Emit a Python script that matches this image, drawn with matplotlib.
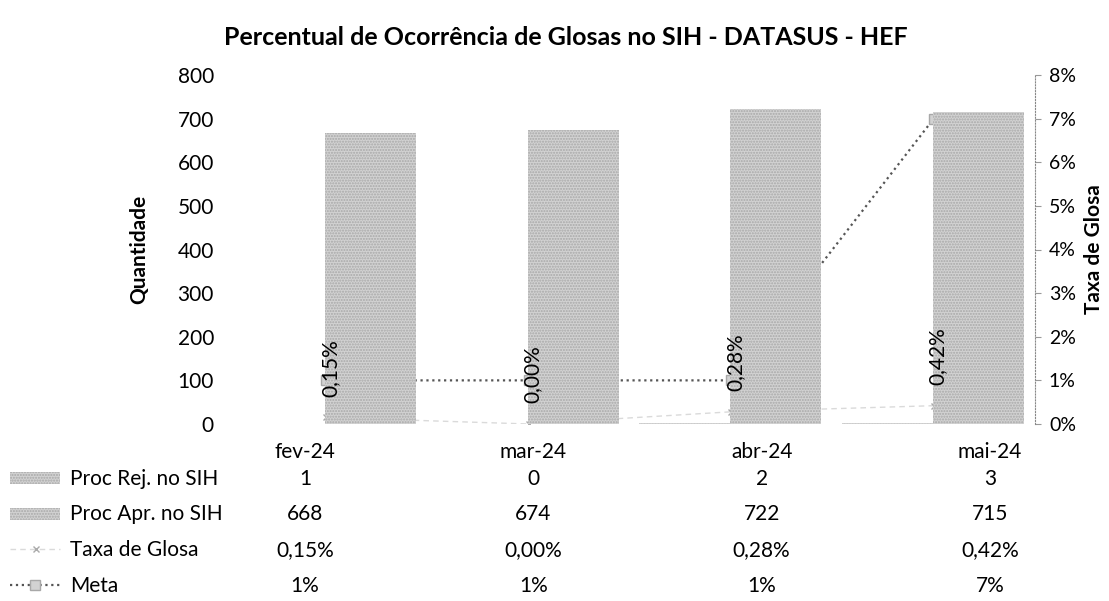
import matplotlib.pyplot as plt
from matplotlib.lines import Line2D
from matplotlib.patches import Rectangle
from matplotlib.ticker import FuncFormatter

plt.rcParams['font.family'] = ['Lato', 'DejaVu Sans']

meses = ["fev-24", "mar-24", "abr-24", "mai-24"]
proc_rej = [1, 0, 2, 3]
proc_apr = [668, 674, 722, 715]
taxa_glosa = [0.15, 0.00, 0.28, 0.42]   # em %
meta = [1, 1, 1, 7]                     # em %

cor_barra = "#d2d2d2"
cor_hatch = "#a8a8a8"
fs = 15

fig = plt.figure(figsize=(11.09, 6.01), dpi=100)
ax = fig.add_axes([225 / 1109, 1 - 424 / 601, 810 / 1109, 349 / 601])
ax2 = ax.twinx()

x = list(range(len(meses)))

# barras (eixo principal)
ax.bar([i - 0.23 for i in x], proc_rej, width=0.45, color=cor_barra,
       hatch="......", edgecolor=cor_hatch, linewidth=0)
ax.bar([i + 0.22 for i in x], proc_apr, width=0.45, color=cor_barra,
       hatch="......", edgecolor=cor_hatch, linewidth=0)
ax.set_xlim(-0.5, 3.5)
ax.set_ylim(0, 800)
ax.set_yticks(range(0, 801, 100))
ax.set_xticks([])
ax.tick_params(axis="y", length=0, labelsize=fs, pad=8)
for s in ax.spines.values():
    s.set_visible(False)
ax.set_ylabel("Quantidade", fontsize=fs, fontweight="bold", labelpad=20)

# linhas (eixo secundario), desenhadas atras das barras
ax2.plot(x, meta, linestyle=":", color="#555555", lw=1.6,
         marker="s", markersize=7, markerfacecolor=cor_barra,
         markeredgecolor=cor_hatch)
ax2.plot(x, taxa_glosa, linestyle=(0, (4, 3)), color="#dadada", lw=1,
         marker="x", markersize=5, markeredgecolor="#aaaaaa")
ax2.set_ylim(0, 8)
ax2.set_yticks(range(0, 9))
ax2.yaxis.set_major_formatter(FuncFormatter(lambda v, p: "%d%%" % v))
ax2.tick_params(axis="y", length=4, color="#999999", labelsize=14, pad=6)
for s in ["top", "bottom", "left"]:
    ax2.spines[s].set_visible(False)
ax2.spines["right"].set_linestyle(":")
ax2.spines["right"].set_color("#888888")
ax2.set_ylabel("Taxa de Glosa", fontsize=fs, fontweight="bold", labelpad=6)
ax.set_zorder(ax2.get_zorder() + 1)
ax.patch.set_visible(False)

# rotulos da taxa, por cima das barras
for i, v in zip(x, taxa_glosa):
    ax.annotate(("%.2f%%" % v).replace(".", ","), (i, v * 100),
                xytext=(3, 15), textcoords="offset points",
                rotation=90, ha="center", va="bottom", fontsize=fs)

fig.text(0.51, 0.937, "Percentual de Ocorrência de Glosas no SIH - DATASUS - HEF",
         ha="center", va="center", fontsize=18, fontweight="bold")

# tabela de dados
tab = fig.add_axes([191 / 1109, 0, 913 / 1109, 1 - 430 / 601])
tab.set_xlim(-0.5, 3.5)
tab.set_ylim(601, 430)
tab.axis("off")

linhas = [
    ("Proc Rej. no SIH", [str(v) for v in proc_rej]),
    ("Proc Apr. no SIH", [str(v) for v in proc_apr]),
    ("Taxa de Glosa", [("%.2f%%" % v).replace(".", ",") for v in taxa_glosa]),
    ("Meta", ["%d%%" % v for v in meta]),
]
for i, m in enumerate(meses):
    tab.text(i, 452, m, ha="center", va="center", fontsize=fs)
for r, (nome, vals) in enumerate(linhas):
    y = 479 + r * 35.5
    fig.text(70 / 1109, 1 - y / 601, nome, ha="left", va="center", fontsize=fs)
    for i, v in enumerate(vals):
        tab.text(i, y, v, ha="center", va="center", fontsize=fs)

# chaves da legenda
for r in range(2):
    y = 478 + r * 35.5
    fig.patches.append(Rectangle((10 / 1109, 1 - (y + 6) / 601), 50 / 1109, 12 / 601,
                                 transform=fig.transFigure, facecolor=cor_barra,
                                 hatch="......", edgecolor=cor_hatch, linewidth=0))
y = 478 + 2 * 35.5
fig.lines.append(Line2D([10 / 1109, 60 / 1109], [1 - y / 601] * 2, transform=fig.transFigure,
                        linestyle=(0, (4, 3)), color="#dadada", lw=1))
fig.lines.append(Line2D([36 / 1109], [1 - y / 601], transform=fig.transFigure,
                        marker="x", markersize=5, markeredgecolor="#aaaaaa"))
y = 478 + 3 * 35.5
fig.lines.append(Line2D([10 / 1109, 60 / 1109], [1 - y / 601] * 2, transform=fig.transFigure,
                        linestyle=":", color="#555555", lw=1.6))
fig.lines.append(Line2D([35 / 1109], [1 - y / 601], transform=fig.transFigure,
                        marker="s", markersize=7, markerfacecolor=cor_barra,
                        markeredgecolor=cor_hatch, linestyle="none"))

fig.savefig("out.png", dpi=100)
